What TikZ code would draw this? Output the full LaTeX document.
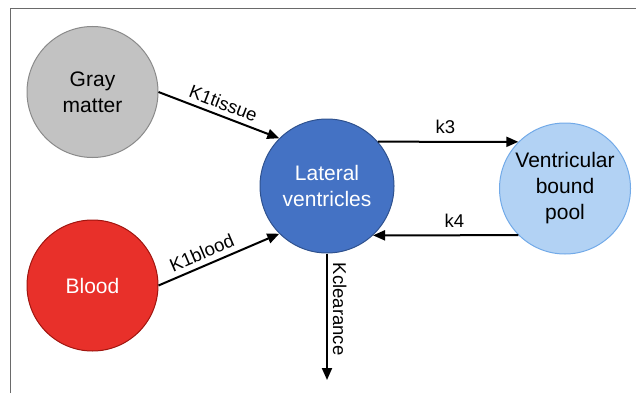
\documentclass[tikz,border=0pt]{standalone}
\usepackage{fontspec}
\setmainfont{Liberation Sans}
\usetikzlibrary{arrows.meta}
\definecolor{framecol}{HTML}{6A6A6A}
\definecolor{grayfill}{HTML}{C2C2C2}
\definecolor{grayline}{HTML}{8A8A8A}
\definecolor{bloodfill}{HTML}{E8302A}
\definecolor{bloodline}{HTML}{A0150F}
\definecolor{latfill}{HTML}{4472C4}
\definecolor{latline}{HTML}{2F528F}
\definecolor{vbpfill}{HTML}{B2D2F4}
\definecolor{vbpline}{HTML}{72AAE8}
\begin{document}
\begin{tikzpicture}[x=1pt,y=-1pt,
  bubble/.style={circle, inner sep=0pt, line width=1pt, align=center,
    font=\fontsize{21}{26}\selectfont},
  arr/.style={line width=2pt, -{Triangle[length=12pt,width=10pt]}},
  lbl/.style={font=\fontsize{18.5}{22}\selectfont, inner sep=5pt}]
\useasboundingbox (0,0) rectangle (636,393);
\draw[framecol, line width=1.5pt] (10.5,393) -- (10.5,8.5) -- (636,8.5);
\node[bubble, fill=grayfill, draw=grayline, minimum size=131pt] (gm) at (92.5,92) {Gray\\matter};
\node[bubble, fill=bloodfill, draw=bloodline, minimum size=131pt, text=white] (bl) at (92.5,285.5) {Blood};
\node[bubble, fill=latfill, draw=latline, minimum size=134pt, text=white] (lat) at (327,186) {Lateral\\ventricles};
\node[bubble, fill=vbpfill, draw=vbpline, minimum size=131pt] (vbp) at (565,188.5) {Ventricular\\bound\\pool};
\coordinate (kend) at (327,380);
\draw[arr] (gm.east) -- node[lbl, sloped, above, pos=0.5] {K1tissue} (lat.135);
\draw[arr] (bl.east) -- node[lbl, sloped, above, pos=0.4] {K1blood} (lat.225);
\draw[arr] (lat.41) -- node[lbl, above=2pt, pos=0.48] {k3} (vbp.135);
\draw[arr] (vbp.225) -- node[lbl, above=2pt, pos=0.44] {k4} (lat.-47);
\draw[arr] (lat.south) -- node[lbl, pos=0.44, rotate=-90, anchor=south] {Kclearance} (kend);
\end{tikzpicture}
\end{document}
